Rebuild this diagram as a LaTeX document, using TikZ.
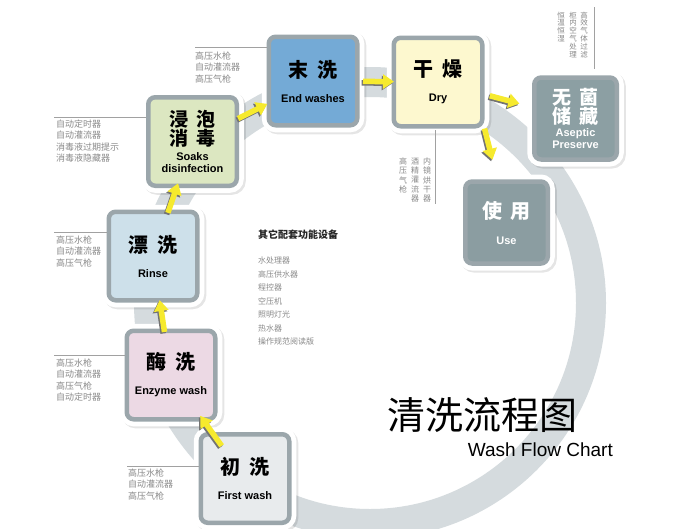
\documentclass[tikz,border=0pt]{standalone}
\usepackage{fontspec}
\setmainfont{Liberation Sans}
\newfontfamily\cjk{Noto Sans CJK SC}
\usetikzlibrary{arrows.meta}
\definecolor{cRing}{HTML}{D5DBDE}
\definecolor{cBorder}{HTML}{9BA6AB}
\definecolor{cEW}{HTML}{74AAD6}
\definecolor{cDry}{HTML}{FDF8CF}
\definecolor{cAsp}{HTML}{8C9FA3}
\definecolor{cUse}{HTML}{8B9DA1}
\definecolor{cSk}{HTML}{DCE7C1}
\definecolor{cRn}{HTML}{CDE0EA}
\definecolor{cEz}{HTML}{ECD9E4}
\definecolor{cFw}{HTML}{E8EBED}
\definecolor{cYel}{HTML}{F6EA2E}
\definecolor{cAnn}{HTML}{8A8A8A}
\newcommand\yarr[3]{\draw[yshadow,#1] (#2) -- (#3); \draw[ymain,#1] (#2) -- (#3);}
\newcommand\cjkl[1]{{\cjk\bfseries\fontsize{20}{22}\selectfont #1}}
\newcommand\cjks[1]{{\cjk\bfseries\fontsize{19}{23}\selectfont #1}}
\newcommand\enl[1]{{\bfseries\fontsize{11}{13}\selectfont #1}}
\begin{document}
\begin{tikzpicture}[x=1pt,y=-1pt,
  box/.style={rounded corners=7pt, draw=cBorder, line width=4.5pt,
    minimum width=88.5pt, minimum height=88.5pt, inner sep=1pt, align=center,
    preaction={draw=black, draw opacity=.10, line width=14pt, transform canvas={shift={(2pt,-2pt)}}},
    preaction={draw=white, line width=14pt}},
  smallbox/.style={box, minimum width=82.5pt, minimum height=82pt},
  ymain/.style={draw=cYel, line width=5.5pt, -{Triangle[width=14pt,length=11pt]}},
  yshadow/.style={draw=black!55, line width=5.5pt, -{Triangle[width=14pt,length=11pt]}, transform canvas={shift={(-1.3pt,-1.5pt)}}},
  annline/.style={draw=cAnn!80, line width=0.6pt},
  anntext/.style={anchor=north west, inner sep=0pt, align=left, text=cAnn, font=\cjk\fontsize{9}{11.5}\selectfont},
  vtext/.style={anchor=north, inner sep=0pt, align=center, text=cAnn, font=\cjk\fontsize{7.5}{7.8}\selectfont},
  vtextb/.style={vtext, font=\cjk\fontsize{8}{9.3}\selectfont},
]
\useasboundingbox (0,0) rectangle (692,528);
\fill[white] (0,0) rectangle (692,528);
% ring
\draw[cRing, line width=30pt] (370,303) circle (221pt);

% boxes
\node[box, fill=cEW] (ew) at (313,81) {\cjkl{末\hspace{0.45em}洗}\\[13pt]\enl{End washes}};
\node[box, fill=cDry] (dry) at (438,82) {\cjkl{干\hspace{0.45em}燥}\\[13pt]\enl{Dry}};
\node[smallbox, fill=cAsp, text=white] (asp) at (575.5,118.5) {\cjks{无\hspace{0.45em}菌}\\\cjks{储\hspace{0.45em}藏}\\[1pt]\enl{Aseptic}\\\enl{Preserve}};
\node[smallbox, fill=cUse, text=white] (use) at (506.5,222.5) {\cjkl{使\hspace{0.45em}用}\\[14pt]\enl{Use}};
\node[box, fill=cSk] (sk) at (192.5,141.5) {\cjks{浸\hspace{0.45em}泡}\\\cjks{消\hspace{0.45em}毒}\\[3pt]\enl{Soaks}\\\enl{disinfection}};
\node[box, fill=cRn] (rn) at (153,256) {\cjkl{漂\hspace{0.45em}洗}\\[13pt]\enl{Rinse}};
\node[box, fill=cEz] (ez) at (171,375) {\cjkl{酶\hspace{0.45em}洗}\\[13pt]\enl{Enzyme wash}};
\node[box, fill=cFw] (fw) at (245,478.5) {\cjkl{初\hspace{0.45em}洗}\\[13pt]\enl{First wash}};

% arrows
\yarr{shorten <=-17pt, shorten >=-7pt}{fw}{ez}
\yarr{shorten <=-3.5pt, shorten >=-2.5pt}{ez}{rn}
\yarr{shorten <=-3.5pt, shorten >=-5pt}{rn}{sk}
\yarr{shorten <=-1pt, shorten >=-1pt}{sk}{ew}
\yarr{shorten <=3.5pt, shorten >=-2.5pt}{ew}{dry}
\yarr{shorten <=5.5pt, shorten >=13pt}{dry}{asp}
\yarr{shorten <=0pt, shorten >=20pt}{dry.south east}{use.102}

% annotations
\coordinate (a1) at (195,47); \draw[annline] (a1) -- (a1 -| ew.west);
\node[anntext] (t1) at (195,51.5) {高压水枪\\自动灌流器\\高压气枪};
\coordinate (a2) at (54,117); \draw[annline] (a2) -- (a2 -| sk.west);
\node[anntext] (t2) at (56,119.5) {自动定时器\\自动灌流器\\消毒液过期提示\\消毒液隐藏器};
\coordinate (a3) at (54,232); \draw[annline] (a3) -- (a3 -| rn.west);
\node[anntext] (t3) at (56,235.5) {高压水枪\\自动灌流器\\高压气枪};
\coordinate (a4) at (54,355); \draw[annline] (a4) -- (a4 -| ez.west);
\node[anntext] (t4) at (56,358.5) {高压水枪\\自动灌流器\\高压气枪\\自动定时器};
\coordinate (a5) at (127,466); \draw[annline] (a5) -- (a5 -| fw.west);
\node[anntext] (t5) at (128,468.5) {高压水枪\\自动灌流器\\高压气枪};

% vertical notes top right
\coordinate (v1a) at (594,7); \coordinate (v1b) at (594,69); \draw[annline] (v1a) -- (v1b);
\node[vtext] (c1) at (584,11.5) {高\\效\\气\\体\\过\\滤};
\node[vtext] (c2) at (573,11.5) {柜\\内\\空\\气\\处\\理};
\node[vtext] (c3) at (561,11.5) {恒\\温\\恒\\湿};
% vertical notes near dry
\coordinate (v2a) at (435,130); \coordinate (v2b) at (435,204); \draw[annline] (v2a) -- (v2b);
\node[vtextb] (d1) at (427,157.5) {内\\镜\\烘\\干\\器};
\node[vtextb] (d2) at (415,157.5) {酒\\精\\灌\\流\\器};
\node[vtextb] (d3) at (403,157.5) {高\\压\\气\\枪};

% center list
\node[anchor=north west, inner sep=0pt, font=\cjk\bfseries\fontsize{10}{12}\selectfont, text=black!85] (lt) at (258,230) {其它配套功能设备};
\node[anntext, font=\cjk\fontsize{8}{13.5}\selectfont] (li) at (258,256.7) {水处理器\\高压供水器\\程控器\\空压机\\照明灯光\\热水器\\操作规范阅读版};

% title
\node[anchor=west, inner sep=0pt, font=\cjk\fontsize{38}{40}\selectfont] (title) at (387,415) {清洗流程图};
\node[anchor=east, inner sep=0pt, font=\fontsize{19}{22}\selectfont] (sub) at (613,450) {Wash Flow Chart};
\end{tikzpicture}
\end{document}
